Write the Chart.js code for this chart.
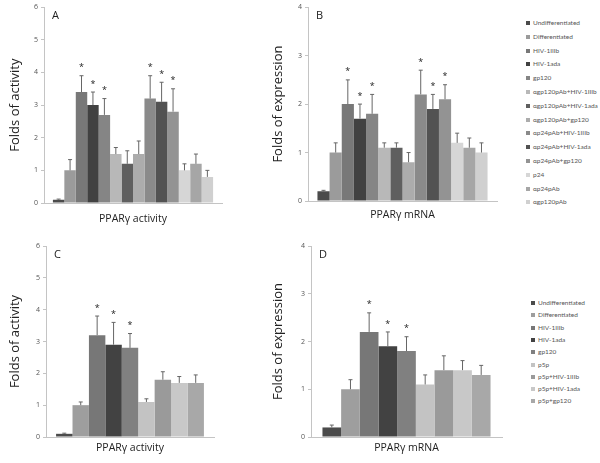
<!DOCTYPE html>
<html>
<head>
<meta charset="utf-8">
<script src="https://cdn.jsdelivr.net/npm/chart.js@4"></script>
<style>
  body { margin: 0; background: #fff; }
  #page { position: relative; width: 600px; height: 463px; overflow: hidden; font-family: "Open Sans", sans-serif; }
  canvas { position: absolute; }
  .legend { position: absolute; font-family: Lato, sans-serif; font-size: 6.5px; color: #555; line-height: 1; }
  .legend div { position: absolute; white-space: nowrap; }
  .legend span { display: inline-block; width: 4px; height: 4px; margin-right: 3px; vertical-align: 0; }
</style>
</head>
<body>
<div id="page">
  <canvas id="chartA" width="230" height="230" style="left:0;top:0"></canvas>
  <canvas id="chartB" width="270" height="230" style="left:230px;top:0"></canvas>
  <canvas id="chartC" width="230" height="233" style="left:0;top:230px"></canvas>
  <canvas id="chartD" width="275" height="233" style="left:230px;top:230px"></canvas>
  <div class="legend" id="legendB" style="left:526px;top:20px"></div>
  <div class="legend" id="legendD" style="left:531px;top:300px"></div>
</div>
<script>
// Daten oben: Gruppen, Mittelwerte, Fehler
const groupsAB = ['Undifferentiated', 'Differentiated', 'HIV-1IIIb', 'HIV-1ada', 'gp120',
    'αgp120pAb+HIV-1IIIb', 'αgp120pAb+HIV-1ada', 'αgp120pAb+gp120',
    'αp24pAb+HIV-1IIIb', 'αp24pAb+HIV-1ada', 'αp24pAb+gp120', 'p24', 'αp24pAb', 'αgp120pAb'];
const valuesA = [0.1, 1.0, 3.4, 3.0, 2.7, 1.5, 1.2, 1.5, 3.2, 3.1, 2.8, 1.0, 1.2, 0.8];
const errorsA = [0.02, 0.33, 0.5, 0.4, 0.5, 0.2, 0.4, 0.4, 0.7, 0.6, 0.7, 0.2, 0.3, 0.2];
const starsA = [2, 3, 4, 8, 9, 10];
const valuesB = [0.2, 1.0, 2.0, 1.7, 1.8, 1.1, 1.1, 0.8, 2.2, 1.9, 2.1, 1.2, 1.1, 1.0];
const errorsB = [0.02, 0.2, 0.5, 0.3, 0.4, 0.1, 0.1, 0.2, 0.5, 0.3, 0.3, 0.2, 0.2, 0.2];
const starsB = [2, 3, 4, 8, 9, 10];

const groupsCD = ['Undifferentiated', 'Differentiated', 'HIV-1IIIb', 'HIV-1ada', 'gp120',
    'p5p', 'p5p+HIV-1IIIb', 'p5p+HIV-1ada', 'p5p+gp120'];
const valuesC = [0.1, 1.0, 3.2, 2.9, 2.8, 1.1, 1.8, 1.7, 1.7];
const errorsC = [0.02, 0.1, 0.6, 0.7, 0.45, 0.1, 0.25, 0.2, 0.25];
const starsC = [2, 3, 4];
const valuesD = [0.2, 1.0, 2.2, 1.9, 1.8, 1.1, 1.4, 1.4, 1.3];
const errorsD = [0.05, 0.2, 0.4, 0.3, 0.3, 0.2, 0.3, 0.2, 0.2];
const starsD = [2, 3, 4];

const yTicksActivity = [0, 1, 2, 3, 4, 5, 6];
const yTicksExpression = [0, 1, 2, 3, 4];

// Grautoene
const COLORS_AB = ['#4b4b4b', '#9b9b9b', '#787878', '#414141', '#858585', '#b8b8b8', '#5f5f5f',
    '#acacac', '#8a8a8a', '#525252', '#939393', '#d6d6d6', '#a6a6a6', '#d0d0d0'];
const COLORS_CD = ['#4b4b4b', '#9e9e9e', '#777777', '#424242', '#808080', '#c3c3c3', '#9a9a9a',
    '#c8c8c8', '#a8a8a8'];

const errorBarPlugin = {
    id: 'errorBars',
    afterDatasetsDraw(chart, args, opts) {
        const ctx = chart.ctx;
        const y = chart.scales.y;
        ctx.save();
        chart.data.datasets.forEach((ds, i) => {
            const bar = chart.getDatasetMeta(i).data[0];
            const top = y.getPixelForValue(ds.data[0] + ds.err);
            ctx.strokeStyle = '#666';
            ctx.lineWidth = 1;
            ctx.beginPath();
            ctx.moveTo(bar.x, bar.y);
            ctx.lineTo(bar.x, top);
            ctx.moveTo(bar.x - 2, top);
            ctx.lineTo(bar.x + 2, top);
            ctx.stroke();
            if (opts.stars.includes(i)) {
                ctx.fillStyle = '#222';
                ctx.font = '9px "Open Sans"';
                ctx.textAlign = 'center';
                ctx.textBaseline = 'middle';
                ctx.fillText('*', bar.x, top - 8);
            }
        });
        const ca = chart.chartArea;
        ctx.fillStyle = '#222';
        ctx.font = '11px "Open Sans"';
        ctx.textAlign = 'left';
        ctx.textBaseline = 'middle';
        ctx.fillText(opts.letter, ca.left + 8, ca.top + 9);
        ctx.restore();
    }
};

function makePanel(id, groups, values, errors, colors, stars, letter, yMax, yTitle, xTitle, box) {
    new Chart(document.getElementById(id), {
        type: 'bar',
        data: {
            labels: [''],
            datasets: groups.map((g, i) => ({
                label: g,
                data: [values[i]],
                err: errors[i],
                backgroundColor: colors[i],
                borderWidth: 0,
                barPercentage: 1.0,
                categoryPercentage: box.cat,
            }))
        },
        options: {
            responsive: false,
            animation: false,
            layout: { padding: { top: box.top, right: box.right, left: 0, bottom: 0 } },
            plugins: {
                legend: { display: false },
                tooltip: { enabled: false },
                errorBars: { stars: stars, letter: letter }
            },
            scales: {
                x: {
                    grid: { display: false },
                    border: { color: '#c4c4c4' },
                    ticks: { display: false },
                    title: { display: true, text: xTitle, color: '#222',
                        font: { family: 'Open Sans', size: 10.5 }, padding: { top: 0, bottom: box.xPad } },
                    afterFit(s) { s.height = box.xHeight; }
                },
                y: {
                    min: 0, max: yMax,
                    grid: { drawOnChartArea: false, tickLength: 3, color: '#c4c4c4' },
                    border: { color: '#c4c4c4' },
                    ticks: { stepSize: 1, padding: 3, color: '#555', font: { family: 'Open Sans', size: 7 } },
                    title: { display: true, text: yTitle, color: '#222',
                        font: { family: 'Open Sans', size: 13 }, padding: { top: box.yPad, bottom: 0 } },
                    afterFit(s) { s.width = box.yWidth; }
                }
            }
        },
        plugins: [errorBarPlugin]
    });
}

function makeLegend(id, groups, colors, step) {
    const el = document.getElementById(id);
    groups.forEach((g, i) => {
        const d = document.createElement('div');
        d.style.top = (i * step) + 'px';
        d.innerHTML = '<span style="background:' + colors[i] + '"></span>' + g;
        el.appendChild(d);
    });
}

makePanel('chartA', groupsAB, valuesA, errorsA, COLORS_AB, starsA, 'A', yTicksActivity[yTicksActivity.length - 1],
    'Folds of activity', 'PPARγ activity', { top: 7, right: 8, xHeight: 27, xPad: 5, yWidth: 44, yPad: 7, cat: 0.9 });
makePanel('chartB', groupsAB, valuesB, errorsB, COLORS_AB, starsB, 'B', yTicksExpression[yTicksExpression.length - 1],
    'Folds of expression', 'PPARγ mRNA', { top: 6, right: 3, xHeight: 29, xPad: 9, yWidth: 78, yPad: 40, cat: 0.9 });
makePanel('chartC', groupsCD, valuesC, errorsC, COLORS_CD, starsC, 'C', yTicksActivity[yTicksActivity.length - 1],
    'Folds of activity', 'PPARγ activity', { top: 16, right: 16, xHeight: 26, xPad: 9, yWidth: 46, yPad: 7, cat: 0.88 });
makePanel('chartD', groupsCD, valuesD, errorsD, COLORS_CD, starsD, 'D', yTicksExpression[yTicksExpression.length - 1],
    'Folds of expression', 'PPARγ mRNA', { top: 16, right: 3, xHeight: 26, xPad: 9, yWidth: 81, yPad: 40, cat: 0.88 });

makeLegend('legendB', groupsAB, COLORS_AB, 13.8);
makeLegend('legendD', groupsCD, COLORS_CD, 12.3);
</script>
</body>
</html>
